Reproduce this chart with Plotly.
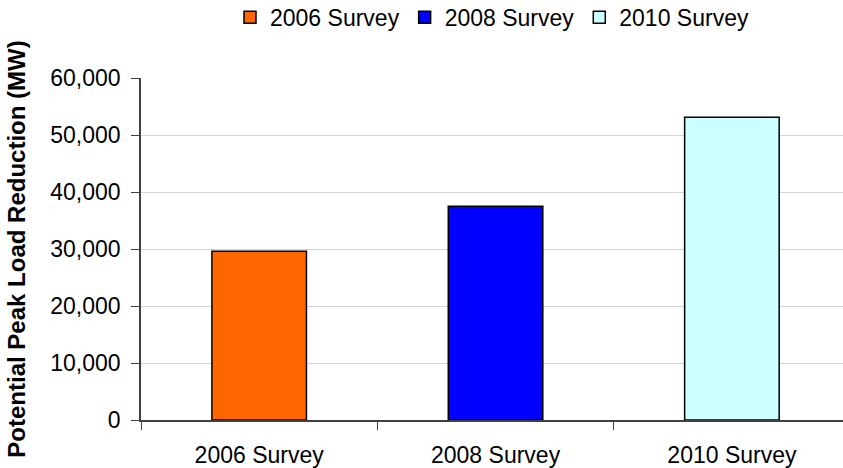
import plotly.graph_objects as go

# Survey results: potential peak load reduction (MW)
surveys = ["2006 Survey", "2008 Survey", "2010 Survey"]
peak_reduction_mw = [29600, 37500, 53100]
bar_colors = ["#FF6600", "#0000FF", "#CCFFFF"]

fig = go.Figure()
for name, val, col in zip(surveys, peak_reduction_mw, bar_colors):
    fig.add_trace(go.Bar(
        x=[name], y=[val], name=name, width=0.4,
        marker=dict(color=col, line=dict(color="#000000", width=1.5)),
    ))

font_family = "Liberation Sans, Arial, sans-serif"

fig.update_layout(
    width=843, height=468,
    margin=dict(l=141, r=0, t=78, b=48, autoexpand=False),
    paper_bgcolor="white", plot_bgcolor="white",
    barmode="overlay",
    font=dict(family=font_family, size=23, color="#000000"),
    showlegend=True,
    legend=dict(
        orientation="h", yref="paper",
        x=0.50, xanchor="center", y=1.24, yanchor="top",
        font=dict(size=23), itemwidth=30, tracegroupgap=0,
        bgcolor="rgba(0,0,0,0)",
    ),
    xaxis=dict(
        range=[-0.5, 2.47], automargin=False,
        showline=True, linecolor="#404040", linewidth=1.5,
        ticks="outside", tickson="boundaries", ticklen=8,
        tickcolor="#404040", showgrid=False,
        tickfont=dict(size=23), ticklabelstandoff=14,
    ),
    yaxis=dict(
        range=[0, 60000], dtick=10000, tickformat=",", automargin=False,
        showline=True, linecolor="#404040", linewidth=1.5,
        ticks="outside", ticklen=8, tickcolor="#404040",
        showgrid=True, gridcolor="#D4D4D4", gridwidth=1,
        zeroline=False, tickfont=dict(size=23), ticklabelstandoff=6,
        title=dict(text="<b>Potential Peak Load Reduction (MW)</b>",
                   font=dict(size=24), standoff=18),
    ),
)

fig.write_html("out.html")
